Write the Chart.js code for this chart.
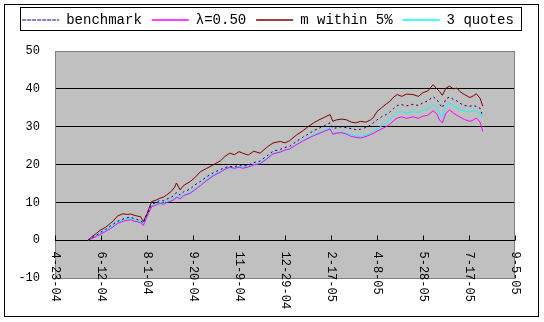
<!DOCTYPE html>
<html>
<head>
<meta charset="utf-8">
<script src="https://cdn.jsdelivr.net/npm/chart.js@4/dist/chart.umd.min.js"></script>
<style>
  body { margin: 0; background: #fff; }
  canvas { display: block; }
</style>
</head>
<body>
<canvas id="chart" width="544" height="322"></canvas>
<script>
// days counted from 4-23-04
var days = [36, 40, 45, 49, 55, 60, 63, 68, 74, 78, 82, 86, 89, 93, 96, 100, 105, 110, 114, 118,
    121, 126, 130, 132, 136, 140, 147, 152, 158, 165, 172, 180, 185, 190, 195, 200, 204, 210, 216, 223,
    230, 237, 245, 250, 255, 263, 270, 275, 281, 287, 293, 299, 302, 306, 312, 317, 322, 327, 332, 338,
    343, 346, 350, 355, 360, 364, 368, 372, 377, 382, 389, 395, 400, 405, 411, 415, 418, 421, 425, 429,
    433, 437, 440, 445, 451, 455, 458, 462, 465];

var benchmark = [0, 0.6, 1.3, 2.0, 2.8, 3.7, 4.2, 5.0, 5.6, 5.9, 6.1, 5.7, 5.5, 5.1, 4.5, 6.8, 9.4, 10.0, 10.5, 10.4,
    10.8, 11.3, 11.9, 12.6, 11.9, 12.8, 13.5, 14.6, 15.5, 16.8, 17.8, 18.7, 19.2, 19.5, 19.3, 19.9, 19.6, 19.8, 20.5, 20.9,
    22.2, 23.5, 24.0, 24.5, 24.8, 26.2, 27.3, 28.0, 28.9, 29.6, 30.3, 31.0, 29.5, 29.7, 30.0, 29.7, 29.5, 29.2, 29.3, 29.8,
    30.4, 31.0, 31.8, 32.6, 33.2, 33.9, 34.8, 35.6, 35.8, 35.5, 35.9, 35.6, 36.3, 36.8, 37.9, 37.2, 36.0, 35.0, 37.4, 37.8,
    37.2, 36.8, 36.2, 35.6, 35.4, 35.6, 35.3, 34.9, 32.7];

var lambda50 = [0, 0.4, 1.0, 1.5, 2.3, 3.0, 3.5, 4.4, 5.0, 5.2, 5.4, 5.0, 4.9, 4.6, 3.9, 6.2, 8.8, 9.3, 9.7, 9.5,
    9.9, 10.3, 10.8, 11.4, 10.9, 11.8, 12.4, 13.3, 14.4, 15.8, 17.0, 18.0, 18.8, 19.3, 19.0, 19.3, 19.0, 19.3, 19.9, 20.2,
    21.4, 22.8, 23.3, 23.8, 24.1, 25.3, 26.3, 26.9, 27.6, 28.2, 28.8, 29.4, 28.0, 28.3, 28.4, 28.0, 27.4, 27.2, 27.0, 27.4,
    27.9, 28.2, 28.8, 29.4, 30.0, 30.6, 31.6, 32.3, 32.6, 32.2, 32.6, 32.2, 32.8, 33.0, 34.2, 33.4, 31.8, 31.0, 33.6, 34.4,
    33.6, 33.0, 32.6, 31.9, 31.4, 31.8, 32.3, 31.2, 28.7];

var within5 = [0, 0.9, 1.8, 2.6, 3.4, 4.4, 5.0, 6.4, 7.0, 6.8, 6.9, 6.6, 6.4, 6.2, 4.9, 7.0, 10.2, 10.6, 11.1, 11.4,
    11.9, 12.8, 14.0, 15.1, 13.3, 14.5, 15.5, 16.5, 18.1, 19.0, 19.9, 21.0, 22.2, 23.0, 22.6, 23.4, 23.0, 22.5, 23.5, 23.0,
    24.5, 25.7, 26.1, 25.7, 26.3, 27.9, 29.0, 30.0, 31.0, 31.8, 32.5, 33.2, 31.4, 31.8, 32.0, 31.8, 31.2, 31.0, 31.4, 31.2,
    31.8, 32.4, 34.0, 35.0, 36.0, 36.7, 37.8, 38.5, 38.0, 38.6, 38.5, 38.0, 39.0, 39.4, 41.1, 40.0, 39.3, 38.3, 40.2, 40.7,
    40.0, 40.2, 39.3, 38.5, 37.7, 38.2, 38.7, 37.5, 35.4];

var quotes3 = [0, 0.5, 1.2, 1.8, 2.6, 3.4, 3.9, 4.8, 5.4, 5.6, 5.8, 5.4, 5.3, 5.0, 4.2, 6.5, 9.0, 9.6, 10.0, 9.8,
    10.2, 10.6, 11.0, 11.6, 11.1, 12.0, 12.6, 13.5, 14.6, 16.0, 17.2, 18.2, 18.7, 19.1, 18.9, 19.5, 19.2, 19.4, 20.0, 20.4,
    21.6, 23.0, 23.4, 23.8, 24.0, 25.4, 26.4, 27.0, 27.9, 28.4, 29.0, 29.7, 27.9, 28.3, 28.6, 28.3, 27.8, 27.6, 27.4, 27.8,
    28.3, 28.7, 29.4, 30.2, 31.0, 31.8, 33.0, 33.8, 34.0, 33.6, 34.0, 33.7, 34.3, 34.6, 35.8, 35.0, 33.5, 32.4, 35.5, 36.3,
    35.6, 35.0, 34.5, 34.0, 33.9, 34.3, 34.0, 33.6, 32.4];

var seriesNames = ['benchmark', 'λ=0.50', 'm within 5%', '3 quotes'];
var xTicks = { min: 0, max: 500, step: 50 };
var yTicks = { min: -10, max: 50, step: 10 };

function toPoints(vals) {
    return vals.map(function (v, i) { return { x: days[i], y: v }; });
}

function dayLabel(n) {
    var d = new Date(2004, 3, 23 + n);
    return (d.getMonth() + 1) + '-' + d.getDate() + '-' + String(d.getFullYear()).slice(2);
}

var excelLook = {
    id: 'excelLook',
    beforeInit: function (chart) {
        var fit = chart.legend.fit;
        chart.legend.fit = function () {
            fit.call(this);
            this.height = 48;
        };
    },
    beforeDraw: function (chart) {
        var ctx = chart.ctx, a = chart.chartArea;
        ctx.save();
        ctx.fillStyle = '#fff';
        ctx.fillRect(0, 0, chart.width, chart.height);
        ctx.fillStyle = '#c0c0c0';
        ctx.fillRect(a.left, a.top, a.right - a.left, a.bottom - a.top);
        ctx.restore();
    },
    beforeDatasetsDraw: function (chart) {
        var ctx = chart.ctx, a = chart.chartArea, x = chart.scales.x, y = chart.scales.y;
        var y0 = Math.round(y.getPixelForValue(0)) + 0.5;
        ctx.save();
        ctx.lineWidth = 1;
        ctx.strokeStyle = '#808080';
        ctx.strokeRect(a.left + 0.5, a.top + 0.5, a.right - a.left - 1, a.bottom - a.top);
        ctx.strokeStyle = '#000';
        ctx.beginPath();
        ctx.moveTo(a.left, y0);
        ctx.lineTo(a.right, y0);
        x.ticks.forEach(function (t) {
            var px = Math.round(x.getPixelForValue(t.value)) + 0.5;
            ctx.moveTo(px, y0);
            ctx.lineTo(px, y0 - 5);
        });
        ctx.stroke();
        // date labels, rotated to read downward
        ctx.fillStyle = '#000';
        ctx.font = '12px "Liberation Mono"';
        ctx.textAlign = 'left';
        ctx.textBaseline = 'middle';
        x.ticks.forEach(function (t) {
            ctx.save();
            ctx.translate(x.getPixelForValue(t.value), y0 + 11);
            ctx.rotate(Math.PI / 2);
            ctx.fillText(dayLabel(t.value), 0, 0);
            ctx.restore();
        });
        ctx.restore();
    },
    afterDraw: function (chart) {
        var ctx = chart.ctx;
        ctx.save();
        ctx.strokeStyle = '#000';
        ctx.lineWidth = 1;
        ctx.strokeRect(20.5, 7.5, 501, 23);
        ctx.strokeRect(4.5, 4.5, 534, 312);
        ctx.restore();
    }
};

var ctx = document.getElementById('chart').getContext('2d');
var myChart = new Chart(ctx, {
    type: 'line',
    data: {
        datasets: [
            { label: seriesNames[0], data: toPoints(benchmark), borderColor: '#000080', backgroundColor: '#000080', borderWidth: 1, borderDash: [2, 3] },
            { label: seriesNames[1], data: toPoints(lambda50), borderColor: '#ff00ff', backgroundColor: '#ff00ff', borderWidth: 1 },
            { label: seriesNames[2], data: toPoints(within5), borderColor: '#800000', backgroundColor: '#800000', borderWidth: 1 },
            { label: seriesNames[3], data: toPoints(quotes3), borderColor: '#00ffff', backgroundColor: '#00ffff', borderWidth: 1 }
        ]
    },
    options: {
        responsive: false,
        animation: false,
        layout: { padding: { left: 0, right: 8, top: 3, bottom: 44 } },
        elements: { point: { radius: 0 }, line: { tension: 0 } },
        scales: {
            x: {
                type: 'linear',
                min: xTicks.min,
                max: xTicks.max,
                ticks: { stepSize: xTicks.step, display: false },
                grid: { display: false, drawTicks: false },
                border: { display: false }
            },
            y: {
                min: yTicks.min,
                max: yTicks.max,
                afterFit: function (s) { s.width = 55; },
                ticks: {
                    stepSize: yTicks.step,
                    padding: 15,
                    color: '#000',
                    font: { family: 'Liberation Mono', size: 12 }
                },
                grid: {
                    drawTicks: false,
                    color: function (c) {
                        var v = c.tick.value;
                        return (v === yTicks.min || v === yTicks.max) ? '#808080' : '#000';
                    }
                },
                border: { color: '#808080' }
            },
            yRight: {
                type: 'linear',
                position: 'right',
                afterFit: function (s) { s.width = 21; },
                ticks: { display: false },
                grid: { display: false, drawTicks: false },
                border: { display: false }
            }
        },
        plugins: {
            legend: {
                position: 'top',
                labels: {
                    boxWidth: 37,
                    boxHeight: 0,
                    padding: 10,
                    color: '#000',
                    font: { family: 'Liberation Mono', size: 14 }
                }
            },
            tooltip: { enabled: false }
        }
    },
    plugins: [excelLook]
});
</script>
</body>
</html>
